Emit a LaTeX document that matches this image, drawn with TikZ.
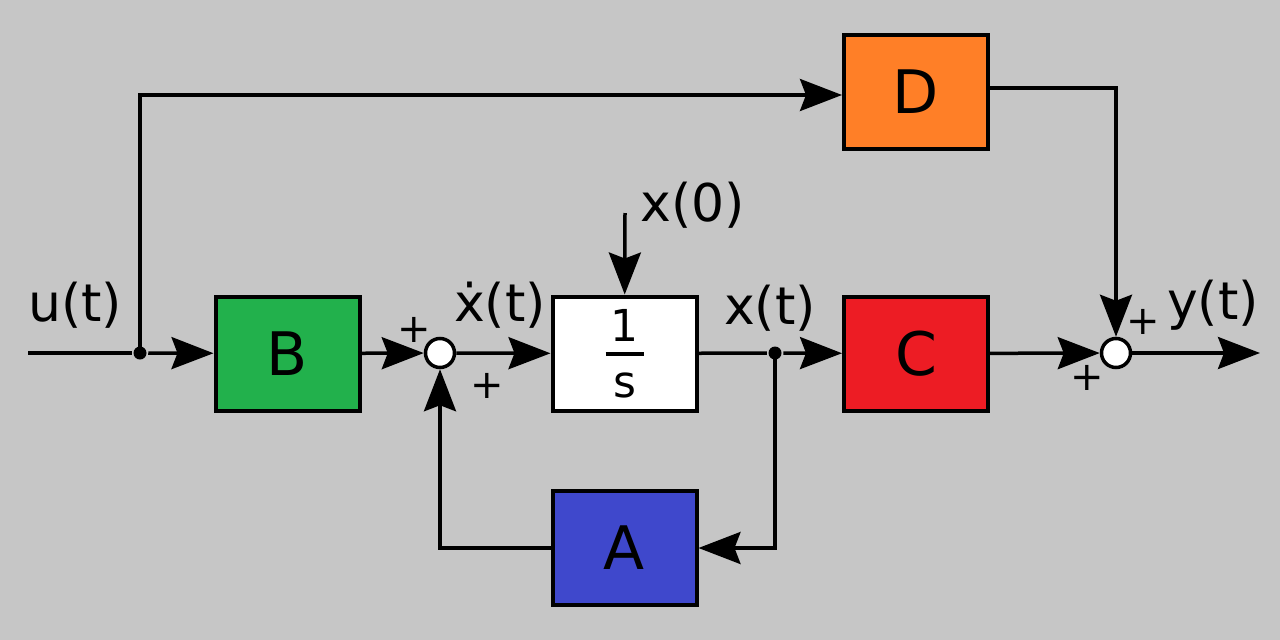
\documentclass[tikz,border=0pt]{standalone}
\usepackage{fontspec}
\setmainfont{DejaVu Sans}
\usetikzlibrary{arrows.meta}

\definecolor{bg}{HTML}{C6C6C6}
\definecolor{blkgreen}{HTML}{22B14C}
\definecolor{blkred}{HTML}{ED1C24}
\definecolor{blkorange}{HTML}{FF7F27}
\definecolor{blkblue}{HTML}{3F48CC}

% zero-size piece of the 1/s fraction, raised by #1
\newcommand{\fracpart}[2]{\makebox[0pt]{\raisebox{#1}[0pt][0pt]{#2}}}

\tikzset{
  blk/.style={draw, line width=4pt, minimum width=144pt, minimum height=114pt,
    inner sep=0pt, font=\fontsize{60}{60}\selectfont},
  sumnode/.style={draw, circle, fill=white, line width=3.5pt, minimum size=29pt, inner sep=0pt},
  dotnode/.style={circle, fill=black, minimum size=13pt, inner sep=0pt},
  sig/.style={font=\fontsize{52}{52}\selectfont, inner sep=0pt},
  pm/.style={font=\fontsize{40}{40}\selectfont, inner sep=0pt},
  wire/.style={line width=3.5pt, -{Stealth[length=42pt, width=32pt, inset=6pt]}}
}

\begin{document}
\begin{tikzpicture}[x=1pt, y=-1pt, line width=3.5pt]
    \fill[bg] (0,0) rectangle (1280,640);
    \useasboundingbox (0,0) rectangle (1280,640);

    % blocks
    \node[blk, fill=blkgreen] (B) at (287.5,353.5) {B};
    \node[blk, fill=white, font=\fontsize{44}{44}\selectfont] (int) at (624.5,353.5)
        {\fracpart{12pt}{1}\fracpart{-2pt}{\rule{38pt}{4pt}}\fracpart{-44pt}{s}};
    \node[blk, fill=blkred] (C) at (916,353.5) {C};
    \node[blk, fill=blkorange] (D) at (916,92) {D};
    \node[blk, fill=blkblue] (A) at (624.5,548) {A};

    \node[sumnode] (s1) at (440,353) {};
    \node[sumnode] (s2) at (1116,353) {};

    \node[dotnode] (j1) at (140,353) {};
    \node[dotnode] (j2) at (775,353) {};

    \coordinate (uin) at (28,353);
    \coordinate (x0) at (625,213);
    \coordinate (yout) at (1260,353);

    % signal labels
    \node[sig] at (75,305) {u(t)};
    \node[sig] at (500,305) {\.{x}(t)};
    \node[sig] at (693,205) {x(0)};
    \node[sig] at (770,308) {x(t)};
    \node[sig] at (1213,305) {y(t)};

    \foreach \x/\y in {414/330, 487/386, 1143/322, 1087/378}
        \node[pm] at (\x,\y) {+};

    % connections
    \draw (uin) -- (j1);
    \draw[wire] (j1) -- (B);
    \draw[wire] (j1.center) |- ([yshift=-3pt]D.west);
    \draw[wire] (B) -- (s1);
    \draw[wire] (s1) -- (int);
    \draw[wire] (x0) -- (int);
    \draw (int) -- (j2);
    \draw[wire] (j2) -- (C);
    \draw[wire] (j2.center) |- (A);
    \draw[wire] (A.west) -| (s1);
    \draw[wire] (C) -- (s2);
    \draw[wire] ([yshift=4pt]D.east) -| (s2);
    \draw[wire] (s2) -- (yout);
\end{tikzpicture}
\end{document}
